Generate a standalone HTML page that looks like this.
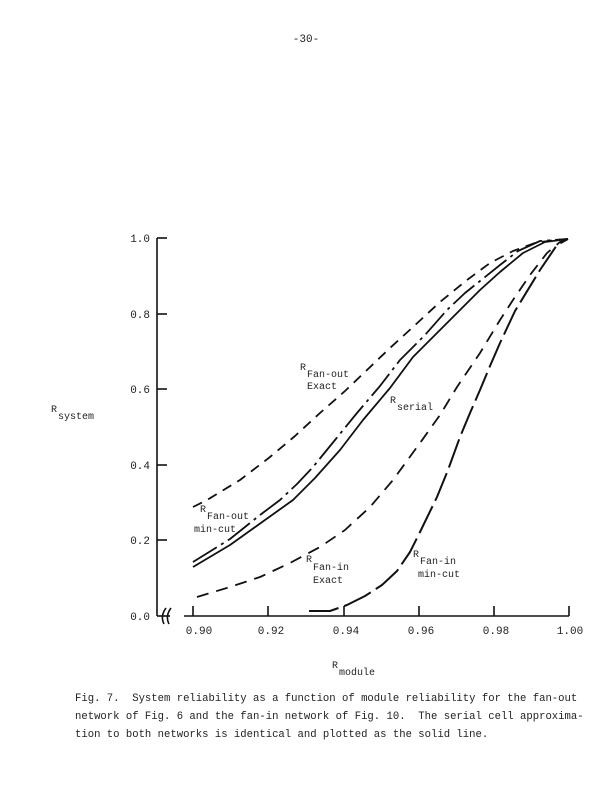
<!DOCTYPE html>
<html><head><style>
body{margin:0;background:#fff}
svg{display:block}
text{font-family:"Liberation Mono",monospace;fill:#222;white-space:pre}
</style></head><body>
<svg width="612" height="791" viewBox="0 0 612 791" xmlns="http://www.w3.org/2000/svg">
<text x="306" y="42" font-size="11" text-anchor="middle">-30-</text>
<g stroke="#111" stroke-width="1.6" fill="none">
<line x1="157" y1="238" x2="157" y2="616"/>
<line x1="157" y1="616" x2="170" y2="616"/>
<line x1="184" y1="616" x2="569" y2="616"/>
<path d="M164,624 q-4,-8 2,-16 M169,624 q-4,-8 2,-16"/>
<line x1="157" y1="238" x2="167" y2="238"/>
<line x1="157" y1="314" x2="167" y2="314"/>
<line x1="157" y1="389" x2="167" y2="389"/>
<line x1="157" y1="465" x2="167" y2="465"/>
<line x1="157" y1="540" x2="167" y2="540"/>
<line x1="193" y1="616" x2="193" y2="606"/>
<line x1="268" y1="616" x2="268" y2="606"/>
<line x1="344" y1="616" x2="344" y2="606"/>
<line x1="419" y1="616" x2="419" y2="606"/>
<line x1="494" y1="616" x2="494" y2="606"/>
<line x1="569" y1="616" x2="569" y2="606"/>
</g>
<g font-size="11">
<text x="150" y="242" text-anchor="end">1.0</text>
<text x="150" y="318" text-anchor="end">0.8</text>
<text x="150" y="393" text-anchor="end">0.6</text>
<text x="150" y="469" text-anchor="end">0.4</text>
<text x="150" y="544" text-anchor="end">0.2</text>
<text x="150" y="620" text-anchor="end">0.0</text>
<text x="199" y="634" text-anchor="middle">0.90</text>
<text x="271" y="634" text-anchor="middle">0.92</text>
<text x="346" y="634" text-anchor="middle">0.94</text>
<text x="421" y="634" text-anchor="middle">0.96</text>
<text x="496" y="634" text-anchor="middle">0.98</text>
<text x="570" y="634" text-anchor="middle">1.00</text>
</g>
<g font-size="10">
<text x="51" y="412">R</text><text x="58" y="419">system</text>
<text x="332" y="668">R</text><text x="339" y="675">module</text>
<text x="300" y="370">R</text><text x="307" y="377">Fan-out</text>
<text x="307" y="389">Exact</text>
<text x="390" y="403">R</text><text x="397" y="410">serial</text>
<text x="200" y="512">R</text><text x="207" y="519">Fan-out</text>
<text x="194" y="532">min-cut</text>
<text x="306" y="562">R</text><text x="313" y="570">Fan-in</text>
<text x="313" y="583">Exact</text>
<text x="413" y="557">R</text><text x="420" y="564">Fan-in</text>
<text x="418" y="577">min-cut</text>
</g>
<g fill="none" stroke="#111" stroke-width="1.8" stroke-linejoin="round">
<polyline points="193,567 230,545 265,520 293,500 315,478 340,450 363,420 390,388 413,357 440,330 460,310 480,290 500,272 523,253 545,242 568,239"/>
<polyline stroke-dasharray="28,5,3,5" points="193,562 230,539 260,515 280,500 297,484 313,467 335,440 357,413 380,386 400,360 425,335 447,310 465,293 480,281 500,265 518,251 540,241 568,239"/>
<polyline stroke-dasharray="10,7" points="193,507 207,500 240,480 270,457 295,436 320,413 345,391 367,370 390,348 413,327 440,302 467,280 490,263 513,251 535,243 555,240 568,239"/>
<polyline stroke-dasharray="12,8" points="197,597 230,587 260,577 290,563 320,547 345,530 370,507 393,480 420,443 440,415 457,387 480,353 500,320 513,300 530,275 547,253 560,242 568,239"/>
<polyline stroke-dasharray="30,6" stroke-width="2" points="309,611 330,611 347,605 365,596 382,585 397,571 410,552 420,532 437,497 448,470 460,437 470,413 480,390 490,366 500,343 515,311 540,270 557,245 568,239"/>
</g>
<g font-size="10.6">
<text x="75" y="701">Fig. 7.  System reliability as a function of module reliability for the fan-out</text>
<text x="75" y="719">network of Fig. 6 and the fan-in network of Fig. 10.  The serial cell approxima-</text>
<text x="75" y="737">tion to both networks is identical and plotted as the solid line.</text>
</g>
</svg>
</body></html>
